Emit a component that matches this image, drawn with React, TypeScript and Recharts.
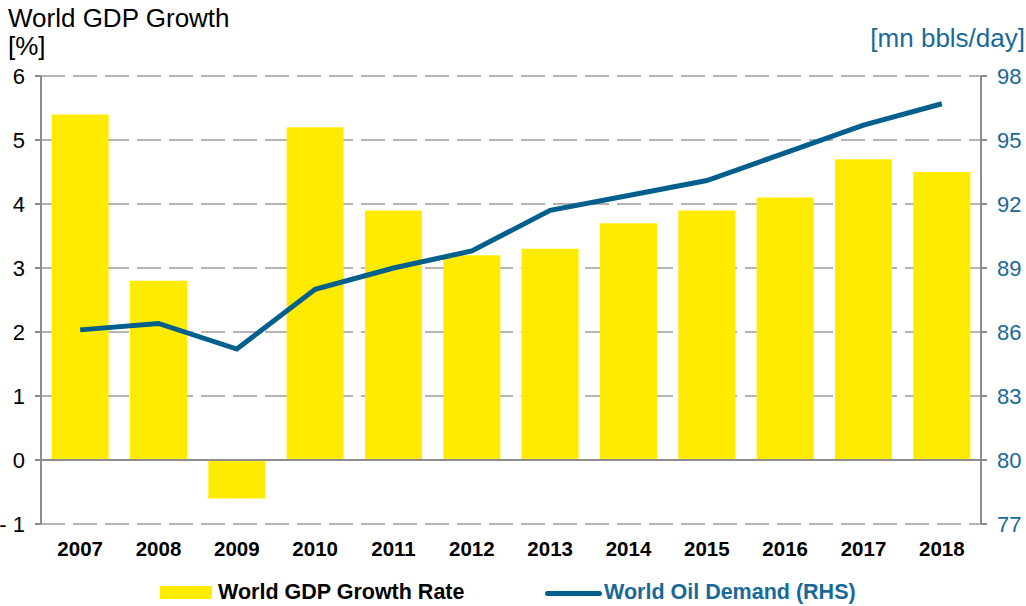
import React from "react";
import {
  ComposedChart,
  Bar,
  Line,
  XAxis,
  YAxis,
  CartesianGrid,
  ReferenceLine,
} from "recharts";

const years = ["2007", "2008", "2009", "2010", "2011", "2012", "2013", "2014", "2015", "2016", "2017", "2018"];
const gdpGrowth = [5.4, 2.8, -0.6, 5.2, 3.9, 3.2, 3.3, 3.7, 3.9, 4.1, 4.7, 4.5];
const oilDemand = [86.1, 86.4, 85.2, 88.0, 89.0, 89.8, 91.7, 92.4, 93.1, 94.4, 95.7, 96.7];
const leftTicks = [-1, 0, 1, 2, 3, 4, 5, 6];
const rightTicks = [77, 80, 83, 86, 89, 92, 95, 98];

const data = years.map((year, i) => ({
  year,
  gdp: gdpGrowth[i],
  oil: oilDemand[i],
}));

const FONT = "'Liberation Sans', Arial, sans-serif";
const YELLOW = "#ffeb00";
const BLUE = "#005f8c";
const BLUE_TEXT = "#17699a";
const AXIS_GRAY = "#8c8c8c";

const App = () => {
  return (
    <div
      style={{
        position: "absolute",
        left: 0,
        top: 0,
        width: 1026,
        height: 606,
        fontFamily: FONT,
        background: "#fff",
      }}
    >
      <div style={{ position: "absolute", left: 8, top: 5, fontSize: 26, lineHeight: 1, color: "#000" }}>
        World GDP Growth
      </div>
      <div style={{ position: "absolute", left: 8, top: 33, fontSize: 26, lineHeight: 1, color: "#000" }}>
        [%]
      </div>
      <div style={{ position: "absolute", right: 1, top: 25, fontSize: 26, lineHeight: 1, color: BLUE_TEXT }}>
        [mn bbls/day]
      </div>

      <ComposedChart
        width={1026}
        height={606}
        data={data}
        margin={{ top: 76, right: 0, left: 0, bottom: 52 }}
        barCategoryGap="13.6%"
      >
        <CartesianGrid
          yAxisId="left"
          vertical={false}
          stroke="#b4b4b4"
          strokeWidth={2}
          strokeDasharray="24 8"
        />
        <XAxis
          dataKey="year"
          height={30}
          axisLine={false}
          tickLine={false}
          interval={0}
          tick={{ fontSize: 20.5, fontWeight: "bold", fill: "#000", fontFamily: FONT }}
          tickMargin={11}
        />
        <YAxis
          yAxisId="left"
          width={41}
          domain={[-1, 6]}
          ticks={leftTicks}
          interval={0}
          allowDataOverflow
          axisLine={{ stroke: AXIS_GRAY, strokeWidth: 2 }}
          tickLine={{ stroke: AXIS_GRAY, strokeWidth: 2 }}
          tickSize={6}
          tickMargin={10}
          tickFormatter={(v: number) => (v < 0 ? `- ${Math.abs(v)}` : `${v}`)}
          tick={{ fontSize: 22, fill: "#000", fontFamily: FONT }}
        />
        <YAxis
          yAxisId="right"
          orientation="right"
          width={45}
          domain={[77, 98]}
          ticks={rightTicks}
          interval={0}
          allowDataOverflow
          axisLine={{ stroke: AXIS_GRAY, strokeWidth: 2 }}
          tickLine={{ stroke: AXIS_GRAY, strokeWidth: 2 }}
          tickSize={6}
          tickMargin={10}
          tick={{ fontSize: 22, fill: BLUE_TEXT, fontFamily: FONT }}
        />
        <ReferenceLine yAxisId="left" y={0} stroke={AXIS_GRAY} strokeWidth={2} />
        <Bar
          yAxisId="left"
          dataKey="gdp"
          fill={YELLOW}
          isAnimationActive={false}
        />
        <Line
          yAxisId="right"
          dataKey="oil"
          type="linear"
          stroke={BLUE}
          strokeWidth={5}
          dot={false}
          activeDot={false}
          isAnimationActive={false}
        />
      </ComposedChart>

      <div
        style={{
          position: "absolute",
          left: 160,
          top: 586,
          width: 52,
          height: 13,
          background: YELLOW,
        }}
      />
      <div
        style={{
          position: "absolute",
          left: 218,
          top: 582,
          fontSize: 21.5,
          lineHeight: 1,
          fontWeight: "bold",
          color: "#000",
        }}
      >
        World GDP Growth Rate
      </div>
      <div
        style={{
          position: "absolute",
          left: 545,
          top: 591,
          width: 57,
          height: 5,
          borderRadius: 3,
          background: BLUE,
        }}
      />
      <div
        style={{
          position: "absolute",
          left: 604,
          top: 582,
          fontSize: 21.5,
          lineHeight: 1,
          fontWeight: "bold",
          color: BLUE_TEXT,
        }}
      >
        World Oil Demand (RHS)
      </div>
    </div>
  );
};

export default App;
